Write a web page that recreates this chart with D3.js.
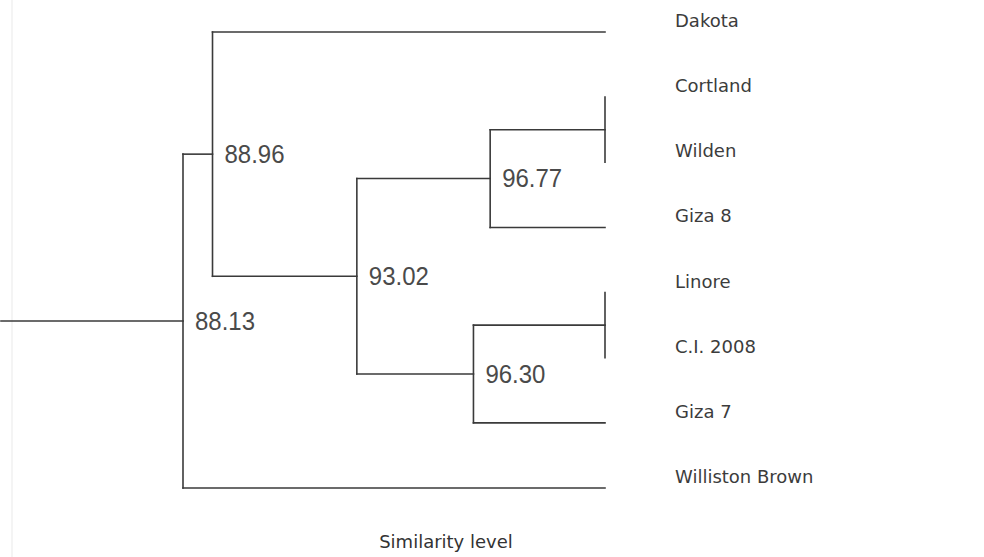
<!DOCTYPE html>
<html>
<head>
<meta charset="utf-8">
<script src="https://cdn.jsdelivr.net/npm/d3@7"></script>
<style>
  html, body { margin: 0; padding: 0; background: #fff; }
  svg { display: block; }
</style>
</head>
<body>
<svg id="chart" width="984" height="557"></svg>
<script>
// ---- Data ----
const leaves = ["Dakota", "Cortland", "Wilden", "Giza 8", "Linore", "C.I. 2008", "Giza 7", "Williston Brown"];
const linkIds = ["L1", "L2", "L3", "L4", "L5", "L6", "L7"];
const linkLeft = ["Cortland", "Linore", "L1", "L2", "L3", "Dakota", "L6"];
const linkRight = ["Wilden", "C.I. 2008", "Giza 8", "Giza 7", "L4", "L5", "Williston Brown"];
const linkSimilarity = [100, 100, 96.77, 96.30, 93.02, 88.96, 88.13];
const linkLabels = ["", "", "96.77", "96.30", "93.02", "88.96", "88.13"];
const axisTitle = "Similarity level";

// ---- Layout ----
const svg = d3.select("#chart");
const W = 984, H = 557;
const minSim = d3.min(linkSimilarity), maxSim = d3.max(linkSimilarity);
const x = d3.scaleLinear().domain([minSim, maxSim]).range([183, 605]);
const y = d3.scalePoint().domain(leaves).range([32, 488]);

// faint scanned page edge
svg.append("line").attr("x1", 12).attr("x2", 12).attr("y1", 0).attr("y2", H)
  .attr("stroke", "#f0f0f0").attr("stroke-width", 1.5);

// node positions
const pos = {};
leaves.forEach(l => { pos[l] = { x: x(maxSim), y: y(l) }; });
linkIds.forEach((id, i) => {
  const a = pos[linkLeft[i]], b = pos[linkRight[i]];
  pos[id] = { x: x(linkSimilarity[i]), y: (a.y + b.y) / 2 };
});

const g = svg.append("g").attr("stroke", "#3a3a3a").attr("stroke-width", 1.6)
  .attr("fill", "none").attr("stroke-linecap", "square");

const segs = [];
linkIds.forEach((id, i) => {
  const p = pos[id];
  [linkLeft[i], linkRight[i]].forEach(c => {
    const q = pos[c];
    if (q.x > p.x + 0.5) segs.push([p.x, q.y, q.x, q.y]);
  });
  segs.push([p.x, pos[linkLeft[i]].y, p.x, pos[linkRight[i]].y]);
});
// root stem
const root = pos[linkIds[linkIds.length - 1]];
segs.push([1, root.y, root.x, root.y]);

g.selectAll("line").data(segs).join("line")
  .attr("x1", d => d[0]).attr("y1", d => d[1])
  .attr("x2", d => d[2]).attr("y2", d => d[3]);

// node labels (tall, condensed digits)
svg.append("g").selectAll("text")
  .data(linkIds.map((id, i) => ({ id, label: linkLabels[i] })).filter(d => d.label))
  .join("text")
  .attr("x", d => pos[d.id].x + 12)
  .attr("y", d => pos[d.id].y + 2)
  .attr("dominant-baseline", "middle")
  .attr("font-family", "'Liberation Sans Narrow', 'Arial Narrow', 'Liberation Sans', sans-serif")
  .attr("font-size", 25)
  .attr("textLength", 60)
  .attr("lengthAdjust", "spacingAndGlyphs")
  .attr("fill", "#4a4a4a")
  .text(d => d.label);

// leaf labels
svg.append("g").selectAll("text").data(leaves).join("text")
  .attr("x", 675)
  .attr("y", d => y(d) - 10)
  .attr("dominant-baseline", "middle")
  .attr("font-family", "'DejaVu Sans', Verdana, sans-serif")
  .attr("font-size", 18)
  .attr("fill", "#3c3c3c")
  .text(d => d);

// axis title
svg.append("text")
  .attr("x", 446).attr("y", 548)
  .attr("text-anchor", "middle")
  .attr("font-family", "'DejaVu Sans', Verdana, sans-serif")
  .attr("font-size", 18)
  .attr("fill", "#333")
  .text(axisTitle);
</script>
</body>
</html>
